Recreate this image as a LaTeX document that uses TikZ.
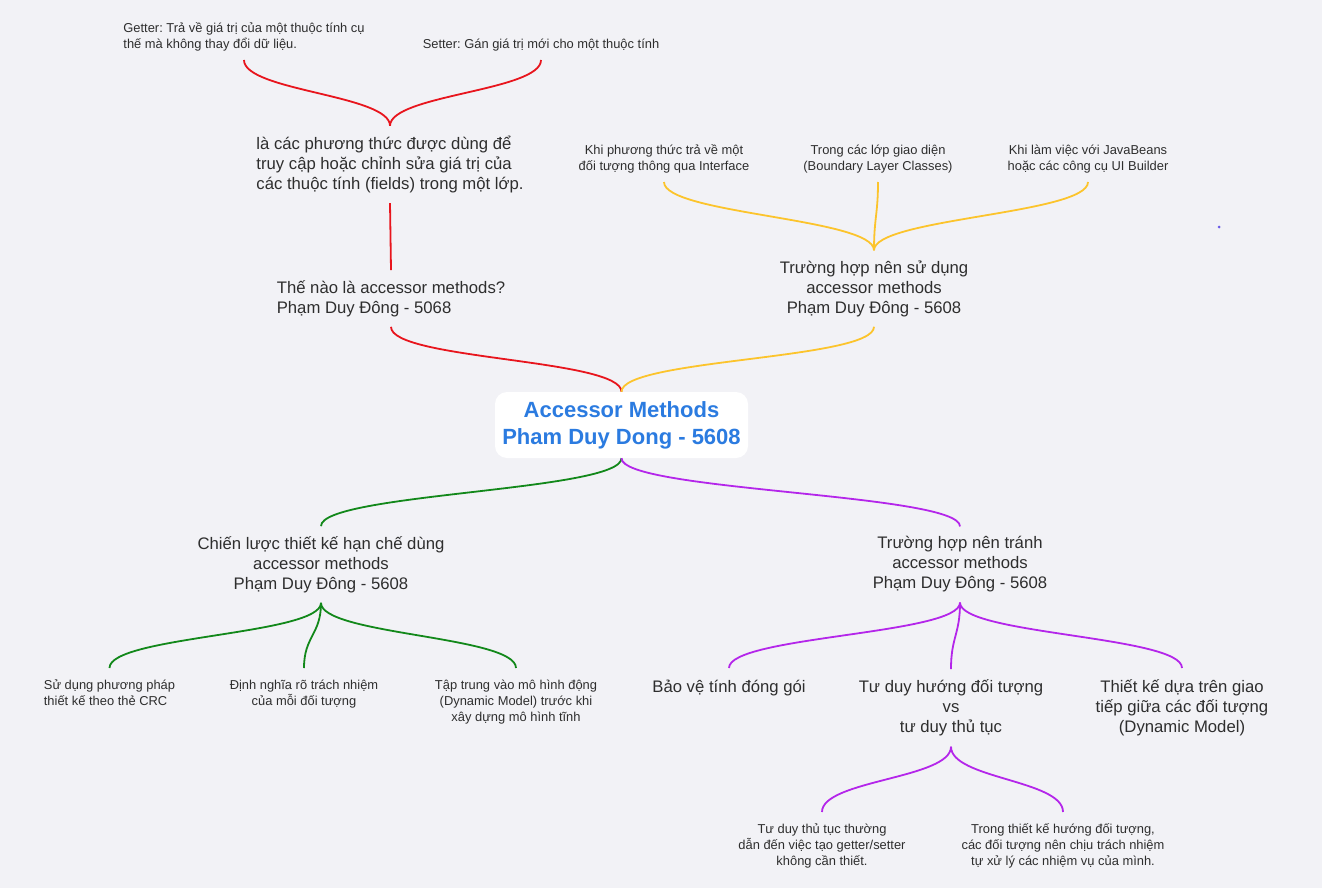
\documentclass[tikz,border=0pt]{standalone}
\usepackage{fontspec}
\setmainfont{Liberation Sans}
\usetikzlibrary{positioning}
\definecolor{bgcol}{HTML}{F2F2F6}
\definecolor{txtcol}{HTML}{2E2E2E}
\definecolor{rootblue}{HTML}{2B7BE0}
\definecolor{redcol}{HTML}{E8151D}
\definecolor{yelcol}{HTML}{FCC42C}
\definecolor{grncol}{HTML}{12881A}
\definecolor{purcol}{HTML}{B426EA}
\definecolor{dotcol}{HTML}{6A5AE8}
\frenchspacing

\tikzset{
  root/.style={fill=white, rounded corners=12pt, minimum width=253pt, minimum height=66pt,
    inner sep=0pt, align=center, text=rootblue, font=\fontsize{22}{27}\selectfont\bfseries},
  topic/.style={font=\fontsize{16.7}{20}\selectfont, text=txtcol, align=center, inner xsep=2pt, inner ysep=10pt},
  leaf/.style={font=\fontsize{12.9}{16}\selectfont, text=txtcol, align=center, inner xsep=2pt, inner ysep=10pt},
  up/.style={anchor=south, inner ysep=8.5pt},
  down/.style={anchor=north, inner ysep=11.5pt},
  redline/.style={draw=redcol, line width=1.8pt},
  yelline/.style={draw=yelcol, line width=1.8pt},
  grnline/.style={draw=grncol, line width=1.8pt},
  purline/.style={draw=purcol, line width=1.8pt}
}

\begin{document}
\begin{tikzpicture}[x=1pt,y=-1pt]
\fill[bgcol] (0,0) rectangle (1322,888);
\useasboundingbox (0,0) rectangle (1322,888);

% centre
\node[root] (root) at (621.5,425) {Accessor Methods\\Pham Duy Dong - 5608};

% red branch
\node[topic, align=left] (what) at (391,298.5) {Thế nào là accessor methods?\\Phạm Duy Đông - 5068};
\node[topic, align=left] (def) at (390,164.5) {là các phương thức được dùng để\\truy cập hoặc chỉnh sửa giá trị của\\các thuộc tính (fields) trong một lớp.};
\node[leaf, align=left, up] (getter) at (244,60) {Getter: Trả về giá trị của một thuộc tính cụ\\thế mà không thay đổi dữ liệu.};
\node[leaf, up] (setter) at (541,60) {Setter: Gán giá trị mới cho một thuộc tính};

% yellow branch
\node[topic] (use) at (874,288.5) {Trường hợp nên sử dụng\\accessor methods\\Phạm Duy Đông - 5608};
\node[leaf, up] (iface) at (664,182) {Khi phương thức trả về một\\đối tượng thông qua Interface};
\node[leaf, up] (boundary) at (878,182) {Trong các lớp giao diện\\(Boundary Layer Classes)};
\node[leaf, up] (beans) at (1088,182) {Khi làm việc với JavaBeans\\hoặc các công cụ UI Builder};

% green branch
\node[topic] (limit) at (321,564.5) {Chiến lược thiết kế hạn chế dùng\\accessor methods\\Phạm Duy Đông - 5608};
\node[leaf, align=left, down] (crc) at (109.5,668) {Sử dụng phương pháp\\thiết kế theo thẻ CRC};
\node[leaf, down] (resp) at (304,668) {Định nghĩa rõ trách nhiệm\\của mỗi đối tượng};
\node[leaf, down] (dyn) at (516,668) {Tập trung vào mô hình động\\(Dynamic Model) trước khi\\xây dựng mô hình tĩnh};

% purple branch
\node[topic] (avoid) at (960,564.5) {Trường hợp nên tránh\\accessor methods\\Phạm Duy Đông - 5608};
\node[topic, down] (encap) at (729,668) {Bảo vệ tính đóng gói};
\node[topic, down, inner ysep=10.5pt] (oop) at (951,669) {Tư duy hướng đối tượng\\vs\\tư duy thủ tục};
\node[topic, down] (iact) at (1182,668) {Thiết kế dựa trên giao\\tiếp giữa các đối tượng\\(Dynamic Model)};
\node[leaf, down] (proc) at (822,812) {Tư duy thủ tục thường\\dẫn đến việc tạo getter/setter\\không cần thiết.};
\node[leaf, down] (self) at (1063,812) {Trong thiết kế hướng đối tượng,\\các đối tượng nên chịu trách nhiệm\\tự xử lý các nhiệm vụ của mình.};

% connectors
\draw[redline] (root.north) .. controls +(0,-33) and +(0,33) .. (what.south);
\draw[redline] (what.north) -- (def.south);
\draw[redline] (def.north) .. controls +(0,-31) and +(0,31) .. (getter.south);
\draw[redline] (def.north) .. controls +(0,-31) and +(0,31) .. (setter.south);

\draw[yelline] (root.north) .. controls +(0,-33) and +(0,33) .. (use.south);
\draw[yelline] (use.north) .. controls +(0,-32) and +(0,32) .. (iface.south);
\draw[yelline] (use.north) .. controls +(0,-32) and +(0,32) .. (boundary.south);
\draw[yelline] (use.north) .. controls +(0,-32) and +(0,32) .. (beans.south);

\draw[grnline] (root.south) .. controls +(0,33) and +(0,-33) .. (limit.north);
\draw[grnline] (limit.south) .. controls +(0,32) and +(0,-32) .. (crc.north);
\draw[grnline] (limit.south) .. controls +(0,32) and +(0,-32) .. (resp.north);
\draw[grnline] (limit.south) .. controls +(0,32) and +(0,-32) .. (dyn.north);

\draw[purline] (root.south) .. controls +(0,33) and +(0,-33) .. (avoid.north);
\draw[purline] (avoid.south) .. controls +(0,32) and +(0,-32) .. (encap.north);
\draw[purline] (avoid.south) .. controls +(0,32) and +(0,-32) .. (oop.north);
\draw[purline] (avoid.south) .. controls +(0,32) and +(0,-32) .. (iact.north);
\draw[purline] (oop.south) .. controls +(0,32) and +(0,-32) .. (proc.north);
\draw[purline] (oop.south) .. controls +(0,32) and +(0,-32) .. (self.north);

\fill[dotcol] (1219,227) circle (1.5);
\end{tikzpicture}
\end{document}
